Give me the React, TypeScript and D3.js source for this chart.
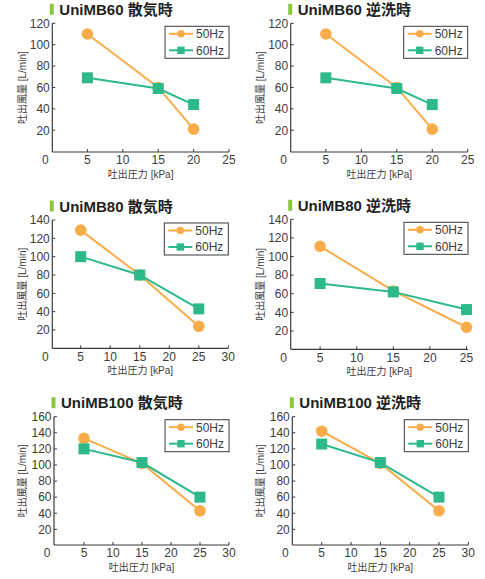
import React from "react";
import * as d3 from "d3";

// ---- data ----
const titles = ["UniMB60 散気時", "UniMB60 逆洗時", "UniMB80 散気時", "UniMB80 逆洗時", "UniMB100 散気時", "UniMB100 逆洗時"];
const xMaxes = [25, 25, 30, 25, 30, 30];
const yMaxes = [120, 120, 140, 140, 160, 160];
const xTickStep = 5;
const yTickStep = 20;
const pressures = [
  [5, 15, 20],
  [5, 15, 20],
  [5, 15, 25],
  [5, 15, 25],
  [5, 15, 25],
  [5, 15, 25],
];
const flow50 = [
  [110, 60, 21],
  [110, 60, 21],
  [129, 80, 24],
  [111, 63, 24],
  [133, 102, 43],
  [142, 102, 43],
];
const flow60 = [
  [69, 59, 44],
  [69, 59, 44],
  [100, 80, 43],
  [71, 62, 43],
  [120, 103, 60],
  [126, 103, 60],
];
const seriesNames = ["50Hz", "60Hz"];
const xAxisTitle = "吐出圧力 [kPa]";
const yAxisTitle = "吐出風量 [L/min]";

// ---- layout (pixel geometry per panel) ----
const layout = [
  { x0: 52, x1: 229, axL: 52.3, axR: 229, y0: 151.6, y1: 23.3, axB: 152, ytx: 22 },
  { x0: 290.4, x1: 467.7, axL: 290.7, axR: 467.7, y0: 151.6, y1: 23.3, axB: 152, ytx: 260 },
  { x0: 51.2, x1: 228.3, axL: 52.3, axR: 228.3, y0: 348.3, y1: 220, axB: 348.3, ytx: 22 },
  { x0: 283.5, x1: 466.5, axL: 290.7, axR: 468, y0: 349.6, y1: 219.3, axB: 349.3, ytx: 260.5 },
  { x0: 55, x1: 229, axL: 54, axR: 229, y0: 545.4, y1: 416.7, axB: 545, ytx: 22 },
  { x0: 292.4, x1: 468.3, axL: 292.3, axR: 468.3, y0: 545.4, y1: 416.7, axB: 545, ytx: 260 },
];

const ORANGE = "#F9AD4A";
const GREEN = "#2DB98A";
const AXIS = "#3a3a3a";
const TEXT = "#3c3c3c";
const LATIN = "'Liberation Sans', Arial, Helvetica, sans-serif";
const CJK = "'Liberation Sans', 'Noto Sans CJK JP', sans-serif";

function Marker({ kind, x, y, size, color }: { kind: number; x: number; y: number; size: number; color: string }) {
  if (kind === 0) return <circle cx={x} cy={y} r={size} fill={color} />;
  return <rect x={x - size} y={y - size} width={size * 2} height={size * 2} fill={color} />;
}

function Panel({ i }: { i: number }) {
  const L = layout[i];
  const xMax = xMaxes[i];
  const yMax = yMaxes[i];
  const x = d3.scaleLinear().domain([0, xMax]).range([L.x0, L.x1]);
  const y = d3.scaleLinear().domain([0, yMax]).range([L.y0, L.y1]);
  const xTicks = d3.range(xTickStep, xMax + 0.001, xTickStep);
  const yTicks = d3.range(yTickStep, yMax + 0.001, yTickStep);
  const line = d3
    .line<[number, number]>()
    .x((d) => x(d[0]))
    .y((d) => y(d[1]));
  const series = [flow50[i], flow60[i]].map((vals) => pressures[i].map((p, k) => [p, vals[k]] as [number, number]));
  const colors = [ORANGE, GREEN];
  const axTop = y(yMax);
  const legL = L.axR - 64;
  const legT = axTop + 3;
  const xMid = (L.axL + L.axR) / 2;
  const yMid = (axTop + L.axB) / 2;

  return (
    <g>
      {/* title */}
      <rect x={L.axL - 2.5} y={axTop - 19.5} width={4} height={11} fill="#8DC63F" />
      <text x={L.axL + 7} y={axTop - 8.3} fontSize={15} fontWeight="bold" fill="#231F20" fontFamily={CJK}>
        {titles[i]}
      </text>

      {/* axes */}
      <line x1={L.axL} x2={L.axL} y1={axTop} y2={L.axB} stroke={AXIS} strokeWidth={1.2} />
      <line x1={L.axL} x2={L.axR} y1={L.axB} y2={L.axB} stroke={AXIS} strokeWidth={1.2} />
      {yTicks.map((t) => (
        <g key={"y" + t}>
          <line x1={L.axL} x2={L.axL + 3} y1={y(t)} y2={y(t)} stroke={AXIS} strokeWidth={1} />
          <text x={L.axL - 2.5} y={y(t)} dy="0.36em" textAnchor="end" fontSize={12} fill={TEXT} fontFamily={LATIN}>
            {t}
          </text>
        </g>
      ))}
      {xTicks.map((t) => (
        <g key={"x" + t}>
          <line x1={x(t)} x2={x(t)} y1={L.axB} y2={L.axB - 3} stroke={AXIS} strokeWidth={1} />
          <text x={x(t)} y={L.axB + 12.3} textAnchor="middle" fontSize={12} fill={TEXT} fontFamily={LATIN}>
            {t}
          </text>
        </g>
      ))}
      <text x={L.axL - 7} y={L.axB + 12.3} textAnchor="middle" fontSize={12} fill={TEXT} fontFamily={LATIN}>
        0
      </text>

      {/* axis titles */}
      <text x={xMid} y={L.axB + 26} textAnchor="middle" fontSize={10} fill={TEXT} fontFamily={CJK}>
        {xAxisTitle}
      </text>
      <text
        transform={`translate(${L.ytx},${yMid}) rotate(-90)`}
        textAnchor="middle"
        dy="0.35em"
        fontSize={10}
        fill={TEXT}
        fontFamily={CJK}
      >
        {yAxisTitle}
      </text>

      {/* series */}
      {series.map((s, si) => (
        <g key={"s" + si}>
          <path d={line(s) || ""} fill="none" stroke={colors[si]} strokeWidth={2} />
          {s.map((d, k) => (
            <Marker key={k} kind={si} x={x(d[0])} y={y(d[1])} size={si === 0 ? 5.8 : 5.5} color={colors[si]} />
          ))}
        </g>
      ))}

      {/* legend */}
      <rect x={legL} y={legT} width={64} height={32} fill="#fff" stroke={AXIS} strokeWidth={1} />
      {seriesNames.map((n, si) => {
        const ry = legT + (si === 0 ? 7.5 : 24);
        return (
          <g key={"l" + si}>
            <line x1={legL + 4} x2={legL + 28} y1={ry} y2={ry} stroke={colors[si]} strokeWidth={2} />
            <Marker kind={si} x={legL + 16} y={ry} size={si === 0 ? 3.8 : 3.7} color={colors[si]} />
            <text x={legL + 31} y={ry} dy="0.36em" fontSize={12} fill={TEXT} fontFamily={LATIN}>
              {n}
            </text>
          </g>
        );
      })}
    </g>
  );
}

export default function App() {
  return (
    <svg
      width={485}
      height={579}
      style={{ position: "absolute", left: 0, top: 0, background: "#fff" }}
    >
      <rect width={485} height={579} fill="#fff" />
      {titles.map((_, i) => (
        <Panel key={i} i={i} />
      ))}
    </svg>
  );
}
